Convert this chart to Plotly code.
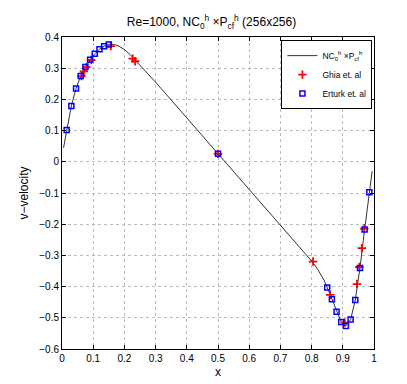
import plotly.graph_objects as go

# computed v-velocity along the horizontal centreline
x_num = [0.005, 0.015, 0.03, 0.045, 0.06, 0.075, 0.09, 0.105, 0.12, 0.135, 0.15,
         0.165, 0.18, 0.2, 0.22, 0.234, 0.25, 0.3, 0.35, 0.4, 0.45, 0.5, 0.55,
         0.6, 0.65, 0.7, 0.75, 0.8, 0.82, 0.84, 0.85, 0.865, 0.88, 0.895, 0.91,
         0.925, 0.94, 0.955, 0.97, 0.985, 0.994]
v_num = [0.045, 0.101, 0.179, 0.235, 0.275, 0.304, 0.327, 0.346, 0.3605, 0.3705, 0.3756,
         0.3765, 0.372, 0.36, 0.342, 0.327, 0.31, 0.255, 0.198, 0.141, 0.084, 0.026, -0.031,
         -0.088, -0.145, -0.202, -0.26, -0.318, -0.345, -0.38, -0.403, -0.441, -0.48, -0.513, -0.526,
         -0.506, -0.443, -0.34, -0.217, -0.097, -0.03]

# Ghia et al. reference data
x_ghia = [0.9688, 0.9609, 0.9531, 0.9453, 0.9063, 0.8594, 0.8047, 0.5,
          0.2344, 0.2266, 0.1563, 0.0938, 0.0781, 0.0703, 0.0625]
v_ghia = [-0.21388, -0.27669, -0.33714, -0.39188, -0.5155, -0.42665, -0.31966, 0.02526,
          0.32235, 0.33075, 0.37095, 0.32627, 0.30353, 0.29012, 0.27485]

# Erturk et al. reference data
x_ert = [0.015, 0.03, 0.045, 0.06, 0.075, 0.09, 0.105, 0.12, 0.135, 0.15, 0.5,
         0.85, 0.865, 0.88, 0.895, 0.91, 0.925, 0.94, 0.955, 0.97, 0.985]
v_ert = [0.1019, 0.1792, 0.2349, 0.2746, 0.3041, 0.3273, 0.346, 0.3605, 0.3705, 0.3756, 0.0258,
         -0.4028, -0.4408, -0.4803, -0.5132, -0.5263, -0.5057, -0.4428, -0.3403, -0.2173, -0.0973]

xticks = [0, 0.1, 0.2, 0.3, 0.4, 0.5, 0.6, 0.7, 0.8, 0.9, 1]
yticks = [-0.6, -0.5, -0.4, -0.3, -0.2, -0.1, 0, 0.1, 0.2, 0.3, 0.4]

fig = go.Figure()

fig.add_trace(go.Scatter(x=x_num, y=v_num, mode="lines",
                         line=dict(color="black", width=0.8),
                         name="NC<sub>0</sub><sup>h</sup> ×P<sub>cf</sub><sup>h</sup>"))
fig.add_trace(go.Scatter(x=x_ghia, y=v_ghia, mode="markers",
                         marker=dict(symbol="cross-thin", size=6, line=dict(color="red", width=1.8)),
                         name="Ghia et. al"))
fig.add_trace(go.Scatter(x=x_ert, y=v_ert, mode="markers",
                         marker=dict(symbol="square-open", size=5, color="blue",
                                     line=dict(color="blue", width=1.5)),
                         name="Erturk et. al"))

axis_common = dict(showline=True, linecolor="black", linewidth=1, mirror="ticks",
                   ticks="inside", ticklen=4, tickcolor="black",
                   showgrid=True, gridcolor="#bbbbbb", griddash="dot", gridwidth=1,
                   zeroline=False, tickfont=dict(size=10, color="black"))

fig.update_xaxes(range=[0, 1], tickvals=xticks, ticktext=[f"{t:g}" for t in xticks],
                 title=dict(text="x", font=dict(size=12, color="black"), standoff=4),
                 **axis_common)
fig.update_yaxes(range=[-0.6, 0.4], tickvals=yticks,
                 ticktext=[f"{t:g}".replace("-", "\u2212") for t in yticks],
                 title=dict(text="v\u2212velocity", font=dict(size=12, color="black"), standoff=8),
                 **axis_common)

fig.update_layout(
    width=407, height=384,
    margin=dict(l=54, r=41, t=29, b=43),
    paper_bgcolor="white", plot_bgcolor="white",
    font=dict(family="Liberation Sans, Arial, sans-serif", color="black"),
    title=dict(text="Re=1000, NC<sub>0</sub><sup>h</sup> ×P<sub>cf</sub><sup>h</sup> (256x256)",
               x=0.5, xanchor="center", y=0.975, yanchor="top",
               font=dict(size=12, color="black")),
    legend=dict(x=0.995, y=0.99, xanchor="right", yanchor="top",
                bgcolor="white", bordercolor="black", borderwidth=1,
                font=dict(size=8.5, color="black"), tracegroupgap=0, itemwidth=30),
    showlegend=True,
)

fig.write_html("out.html")
